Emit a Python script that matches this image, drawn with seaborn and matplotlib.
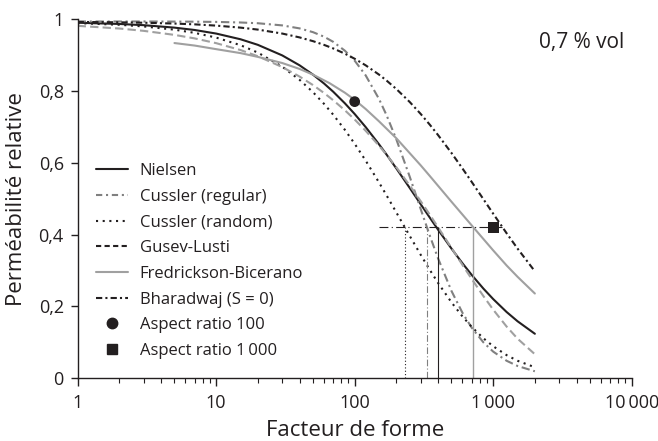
import matplotlib
matplotlib.use("Agg")
import matplotlib.pyplot as plt
from matplotlib.lines import Line2D
from matplotlib.ticker import FixedLocator, LogLocator, NullFormatter
import seaborn as sns

# facteur de forme (axe x, log)
alpha = [1, 2, 3, 5, 7, 10, 15, 20, 30, 40, 50, 60, 70, 85, 100, 120, 150, 170, 200, 250, 300, 350,
         400, 500, 600, 700, 850, 1000, 1250, 1500, 2000]

# perméabilité relative
nielsen = [0.9895, 0.9861, 0.9827, 0.9759, 0.9693, 0.9594, 0.9435, 0.9280, 0.8986, 0.8711, 0.8451,
           0.8207, 0.7976, 0.7653, 0.7356, 0.6993, 0.6511, 0.6226, 0.5841, 0.5296, 0.4844, 0.4463,
           0.4138, 0.3611, 0.3203, 0.2878, 0.2498, 0.2207, 0.1847, 0.1589, 0.1241]
cussler_reg = [0.993, 0.993, 0.993, 0.9927, 0.9924, 0.9918, 0.9902, 0.9881, 0.9821, 0.9738, 0.9633,
               0.9508, 0.9364, 0.9117, 0.8840, 0.8432, 0.7772, 0.7320, 0.6649, 0.5607, 0.4706, 0.3954,
               0.3339, 0.2432, 0.1825, 0.1410, 0.1002, 0.0745, 0.0490, 0.0345, 0.0197]
cussler_rand = [0.9884, 0.9838, 0.9792, 0.9702, 0.9613, 0.9482, 0.9270, 0.9064, 0.8673, 0.8307, 0.7964,
                0.7641, 0.7337, 0.6915, 0.6528, 0.6061, 0.5449, 0.5091, 0.4616, 0.3961, 0.3436, 0.3009,
                0.2657, 0.2115, 0.1724, 0.1432, 0.1116, 0.0894, 0.0647, 0.0490, 0.0309]
gusev = [0.9809, 0.9734, 0.9669, 0.9557, 0.9459, 0.9327, 0.9135, 0.8963, 0.8662, 0.8398, 0.8161,
         0.7942, 0.7739, 0.7459, 0.7203, 0.6890, 0.6471, 0.6219, 0.5873, 0.5366, 0.4928, 0.4546,
         0.4205, 0.3629, 0.3158, 0.2765, 0.2290, 0.1913, 0.1442, 0.1105, 0.0672]
bharadwaj = [0.9918, 0.9907, 0.9895, 0.9872, 0.9850, 0.9815, 0.9759, 0.9704, 0.9594, 0.9487, 0.9383,
             0.9280, 0.9180, 0.9034, 0.8893, 0.8711, 0.8451, 0.8286, 0.8051, 0.7688, 0.7356, 0.7051,
             0.6770, 0.6272, 0.5841, 0.5466, 0.4986, 0.4583, 0.4039, 0.3611, 0.2979]

# Fredrickson-Bicerano commence à 5
alpha_fb = [5, 7, 10, 15, 20, 30, 40, 50, 66, 85, 100, 120, 150, 200, 300, 350, 500, 720, 1000,
            1250, 1500, 2000]
fredrickson = [0.933, 0.926, 0.916, 0.905, 0.8945, 0.8774, 0.861, 0.8451, 0.8212, 0.7948, 0.775,
               0.7496, 0.7151, 0.668, 0.5926, 0.5624, 0.4915, 0.4201, 0.3562, 0.3142, 0.2826, 0.2361]

# points et repères
p_level = 0.42
h_range = [150, 1150]
v_alpha = [232, 332, 398, 720]
pt100 = (100, 0.77)
pt1000 = (1000, 0.42)

xticks = [1, 10, 100, 1000, 10000]
xlabels = ["1", "10", "100", "1\u2009000", "10\u2009000"]
yticks = [0, 0.2, 0.4, 0.6, 0.8, 1]
ylabels = ["0", "0,2", "0,4", "0,6", "0,8", "1"]

sns.set_theme(style="ticks")
plt.rcParams["font.family"] = ["Open Sans", "DejaVu Sans"]

blk = "#231f20"
g_dark = "#808080"
g_light = "#a0a0a0"

fig = plt.figure(figsize=(6.58, 4.41), dpi=100)
ax = fig.add_axes([0.118, 0.142, 0.842, 0.815])

lw = 1.5
sns.lineplot(x=alpha, y=nielsen, ax=ax, color=blk, lw=lw)
sns.lineplot(x=alpha, y=cussler_reg, ax=ax, color=g_dark, lw=lw, linestyle=(0, (4, 1.8, 1, 1.8)))
sns.lineplot(x=alpha, y=cussler_rand, ax=ax, color=blk, lw=lw, linestyle=(0, (1, 2.2)))
sns.lineplot(x=alpha, y=gusev, ax=ax, color=g_light, lw=lw, linestyle=(0, (4, 2)))
sns.lineplot(x=alpha_fb, y=fredrickson, ax=ax, color=g_light, lw=lw)
sns.lineplot(x=alpha, y=bharadwaj, ax=ax, color=blk, lw=lw, linestyle=(0, (3, 1.5, 1, 1.5)))

# lignes de repère
ax.hlines(p_level, h_range[0], h_range[1], color=blk, lw=0.8, linestyle=(0, (8, 3, 1, 3)))
ax.vlines(v_alpha[0], 0, p_level, color=blk, lw=0.8, linestyle=(0, (1, 2)))
ax.vlines(v_alpha[1], 0, p_level, color=g_dark, lw=0.8, linestyle=(0, (6, 2, 1, 2)))
ax.vlines(v_alpha[2], 0, p_level, color=blk, lw=0.8)
ax.vlines(v_alpha[3], 0, p_level, color=g_light, lw=1.0)

sns.scatterplot(x=[pt100[0]], y=[pt100[1]], ax=ax, color=blk, marker="o", s=60, edgecolor="none", zorder=5)
sns.scatterplot(x=[pt1000[0]], y=[pt1000[1]], ax=ax, color=blk, marker="s", s=64, edgecolor="none", zorder=5)

ax.set_xscale("log")
ax.set_xlim(1, 10000)
ax.set_ylim(0, 1)
ax.xaxis.set_major_locator(FixedLocator(xticks))
ax.set_xticklabels(xlabels)
ax.xaxis.set_minor_locator(LogLocator(base=10, subs=range(2, 10)))
ax.xaxis.set_minor_formatter(NullFormatter())
ax.set_yticks(yticks)
ax.set_yticklabels(ylabels)
ax.tick_params(axis="both", which="major", labelsize=13, colors=blk, width=1, length=5, pad=5)
ax.tick_params(axis="x", which="major", length=6)
ax.tick_params(axis="x", which="minor", length=3.5, width=0.8, colors=blk)

sns.despine(ax=ax)
for s in ["left", "bottom"]:
    ax.spines[s].set_color(blk)
    ax.spines[s].set_linewidth(1)

ax.set_xlabel("Facteur de forme", fontsize=16, color=blk, labelpad=6)
ax.set_ylabel("Perméabilité relative", fontsize=16, color=blk, labelpad=8)
ax.text(0.91, 0.935, "0,7 % vol", transform=ax.transAxes, fontsize=15, color=blk, ha="center", va="center")

handles = [
    Line2D([], [], color=blk, lw=lw),
    Line2D([], [], color=g_dark, lw=lw, linestyle=(0, (3, 1.8, 1, 1.8))),
    Line2D([], [], color=blk, lw=lw, linestyle=(0, (1, 2.2))),
    Line2D([], [], color=blk, lw=lw, linestyle=(0, (2.5, 1.6))),
    Line2D([], [], color=g_light, lw=lw),
    Line2D([], [], color=blk, lw=lw, linestyle=(0, (3, 1.5, 1, 1.5))),
    Line2D([], [], color=blk, marker="o", markersize=7.5, linestyle="none"),
    Line2D([], [], color=blk, marker="s", markersize=7.5, linestyle="none"),
]
labels = ["Nielsen", "Cussler (regular)", "Cussler (random)", "Gusev-Lusti", "Fredrickson-Bicerano",
          "Bharadwaj (S = 0)", "Aspect ratio 100", "Aspect ratio 1\u2009000"]
ax.legend(handles, labels, loc="upper left", bbox_to_anchor=(0.022, 0.617), frameon=False, fontsize=12,
          handlelength=1.9, handletextpad=0.7, labelspacing=0.58, borderaxespad=0, labelcolor=blk)

fig.savefig("out.png", dpi=100)
